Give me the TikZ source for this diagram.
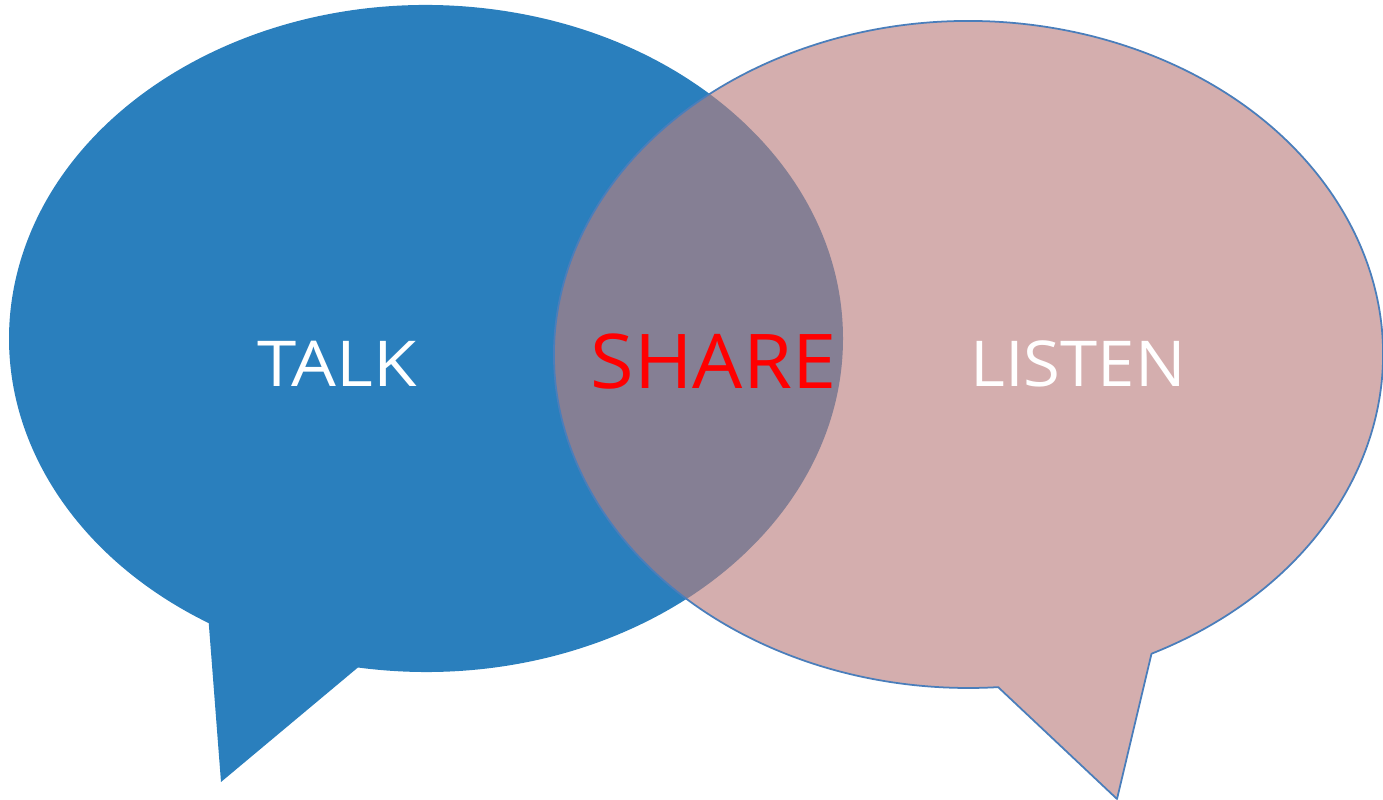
\documentclass[tikz,border=0pt]{standalone}
\usepackage{fontspec}
\setmainfont{Open Sans}
\usepackage{tikz}
\usetikzlibrary{calc}

\definecolor{talkblue}{HTML}{2A7FBD}
\definecolor{listenpink}{HTML}{D4AEAE}
\definecolor{sharegray}{HTML}{857F94}
\definecolor{rimblue}{HTML}{4A7EBB}

\newcommand{\wide}[2]{\scalebox{#1}[1]{#2}}

\tikzset{
	word/.style={anchor=base, inner sep=0pt, font=\fontsize{36}{40}\selectfont},
}

\begin{document}
\begin{tikzpicture}

	\useasboundingbox (0,0) rectangle (27.66,16);

	% left bubble
	\fill [talkblue] ([shift={(260.6:8.34 and 6.67)}]8.52,9.23)
	arc [start angle=260.6, end angle=598.6, x radius=8.34, y radius=6.67]
	-- (4.42,0.36) -- cycle;

	% right bubble
	\fill [listenpink] ([shift={(296.2:8.29 and 6.67)}]19.37,8.91)
	arc [start angle=296.2, end angle=634.1, x radius=8.29, y radius=6.67]
	-- (22.34,0.02) -- cycle;

	% overlap
	\begin{scope}
		\clip (19.37,8.91) ellipse [x radius=8.29, y radius=6.67];
		\fill [sharegray] (8.52,9.23) ellipse [x radius=8.34, y radius=6.67];
	\end{scope}

	\draw [rimblue, line width=1pt, line join=round] ([shift={(296.2:8.29 and 6.67)}]19.37,8.91)
	arc [start angle=296.2, end angle=634.1, x radius=8.29, y radius=6.67]
	-- (22.34,0.02) -- cycle;

	\node [word, white] (talk) at (6.74,8.26) {\wide{1.12}{TALK}};
	\node [word, white] (listen) at (21.56,8.26) {\wide{1.06}{LISTEN}};
	\node [word, red, font=\fontsize{43}{48}\selectfont] (share) at (14.27,8.22) {\wide{1.05}{SHARE}};

\end{tikzpicture}
\end{document}
